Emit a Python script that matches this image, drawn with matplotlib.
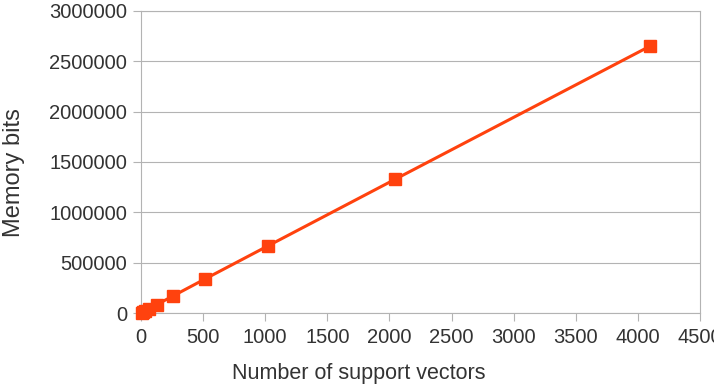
import matplotlib.pyplot as plt

# Number of support vectors vs memory bits
support_vectors = [8, 16, 32, 64, 128, 256, 512, 1024, 2048, 4096]
memory_bits = [5000, 10000, 21000, 42000, 84000, 168000, 336000, 668000, 1330000, 2650000]

x_ticks = [0, 500, 1000, 1500, 2000, 2500, 3000, 3500, 4000, 4500]
y_ticks = [0, 500000, 1000000, 1500000, 2000000, 2500000, 3000000]

plt.rcParams['font.family'] = ['Liberation Sans', 'DejaVu Sans']

fig = plt.figure(figsize=(7.14, 3.87), dpi=100)
ax = fig.add_axes([0.1975, 0.1912, 0.7829, 0.7804])

line_color = '#ff420e'
ax.plot(support_vectors, memory_bits, color=line_color, linewidth=2.2,
  marker='s', markersize=9, markerfacecolor=line_color, markeredgecolor=line_color,
  zorder=3, clip_on=False)

ax.set_xlim(0, 4500)
ax.set_ylim(0, 3000000)
ax.set_xticks(x_ticks)
ax.set_yticks(y_ticks)
ax.set_xticklabels([str(v) for v in x_ticks])
ax.set_yticklabels([str(v) for v in y_ticks])

ax.grid(axis='y', color='#b3b3b3', linewidth=0.8)
ax.set_axisbelow(True)
for side in ['top', 'right', 'bottom', 'left']:
  ax.spines[side].set_color('#b3b3b3')
  ax.spines[side].set_linewidth(0.8)

ax.tick_params(axis='both', colors='#b3b3b3', labelcolor='#333333',
  labelsize=14.5, length=6, width=0.8)
ax.tick_params(axis='y', pad=4)
ax.tick_params(axis='x', pad=5)

ax.set_xlabel('Number of support vectors', fontsize=15.5, color='#333333')
ax.set_ylabel('Memory bits', fontsize=17, color='#333333')
ax.xaxis.set_label_coords(0.39, -0.165)
ax.yaxis.set_label_coords(-0.207, 0.465)

plt.savefig('out.png', dpi=100)
